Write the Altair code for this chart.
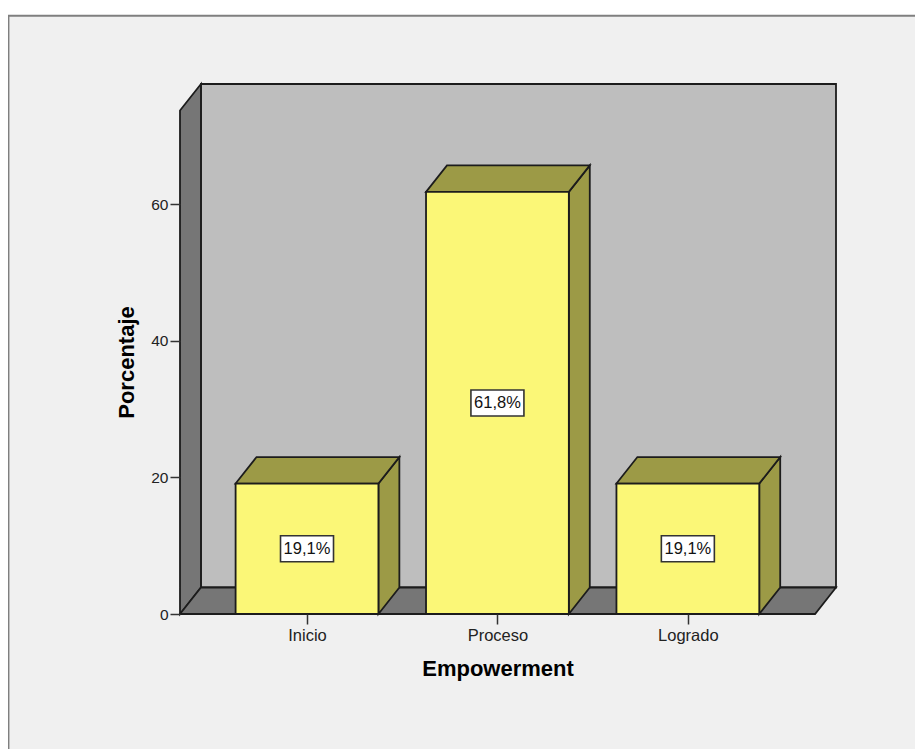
import altair as alt
import pandas as pd

categories = ["Inicio", "Proceso", "Logrado"]
values = [19.1, 61.8, 19.1]
labels = ["19,1%", "61,8%", "19,1%"]
y_ticks = [0, 20, 40, 60]

FONT = "Liberation Sans"
DX, DY = 0.11, 3.88          # depth of the 3-D effect in data units
L, R, TOP = -0.667, 2.668, 73.72  # front floor extents and wall height
HALF = 0.375
XDOM = [L, R + DX]
YDOM = [0, TOP + DY]
INK = "#1c1c1c"

X = alt.Scale(domain=XDOM, nice=False, zero=False)
Y = alt.Scale(domain=YDOM, nice=False, zero=False)


def enc(**kw):
    return dict(
        x=alt.X("x:Q", scale=X, axis=None),
        y=alt.Y("y:Q", scale=Y, axis=None),
        **kw,
    )


def rect(df, fill, **mk):
    return alt.Chart(df).mark_rect(fill=fill, **mk).encode(
        x=alt.X("x:Q", scale=X, axis=None), x2="x2:Q",
        y=alt.Y("y:Q", scale=Y, axis=None), y2="y2:Q",
    )


def poly(rows, fill, sw=1.8):
    df = pd.DataFrame(rows, columns=["id", "x", "y", "y2"])
    return alt.Chart(df).mark_area(
        fill=fill, stroke=INK, strokeWidth=sw, opacity=1, orient="vertical", strokeJoin="miter"
    ).encode(**enc(y2="y2:Q", detail="id:N"))


panel = rect(pd.DataFrame({"x": [-1.568], "x2": [3.4], "y": [87.6], "y2": [-25]}),
             "#f0f0f0", stroke="#7f7f7f", strokeWidth=2)
back = rect(pd.DataFrame({"x": [L + DX], "x2": [R + DX], "y": [DY], "y2": [TOP + DY]}),
            "#bebebe", stroke=INK, strokeWidth=1.8)
left = poly([("l", L, 0, TOP), ("l", L + DX, DY, TOP + DY)], "#767676")
floor = poly([("f", L, 0, 0), ("f", L + DX, 0, DY), ("f", R, 0, DY), ("f", R + DX, DY, DY)], "#767676")

side_rows, top_rows = [], []
for i, v in enumerate(values):
    x0, x1 = i - HALF, i + HALF
    side_rows += [(i, x1, 0, v), (i, x1 + DX, DY, v + DY)]
    top_rows += [(i, x0, v, v), (i, x0 + DX, v, v + DY), (i, x1, v, v + DY), (i, x1 + DX, v + DY, v + DY)]
side = poly(side_rows, "#9c9a46")
top = poly(top_rows, "#9c9a46")

bars_df = pd.DataFrame({
    "x": [i - HALF for i in range(3)], "x2": [i + HALF for i in range(3)],
    "y": [0.0] * 3, "y2": values,
})
front = rect(bars_df, "#fbf777", stroke=INK, strokeWidth=1.8)

lab_df = pd.DataFrame({"x": list(range(3)), "y": [v / 2 for v in values], "t": labels})
box = alt.Chart(lab_df).mark_rect(width=53, height=26, fill="white", stroke="#333333", strokeWidth=1.6).encode(**enc())
txt = alt.Chart(lab_df).mark_text(font=FONT, fontSize=16.5, color="#111111", baseline="middle", align="center").encode(
    **enc(text="t:N"))

expr = "['" + "','".join(categories) + "'][datum.value]"
axes = alt.Chart(pd.DataFrame({"x": [0], "y": [0]})).mark_point(opacity=0).encode(
    x=alt.X("x:Q", scale=X, title="Empowerment", axis=alt.Axis(
        values=[0, 1, 2], labelExpr=expr, grid=False, domain=False, tickSize=10, tickColor="#333333",
        tickWidth=1.5, labelFont=FONT, labelFontSize=16.5, labelColor="#222222", labelPadding=3,
        titleFont=FONT, titleFontSize=22, titleFontWeight="bold", titleColor="#000000", titlePadding=15,
        titleX=317.5, labelAngle=0, zindex=1)),
    y=alt.Y("y:Q", scale=Y, title="Porcentaje", axis=alt.Axis(
        values=y_ticks, grid=False, domain=False, tickSize=10, tickColor="#333333",
        tickWidth=1.5, labelFont=FONT, labelFontSize=15.5, labelColor="#222222", labelPadding=2,
        titleFont=FONT, titleFontSize=22, titleFontWeight="bold", titleColor="#000000", titlePadding=12,
        titleY=278, zindex=1)),
)

chart = alt.layer(panel, back, left, floor, side, top, front, box, txt, axes).resolve_axis(
    x="independent", y="independent"
).properties(
    width=656, height=530,
    padding={"left": 172, "top": 76, "right": 79, "bottom": 135},
    autosize=alt.AutoSizeParams(type="none"),
    background="white",
).configure_view(stroke=None)

chart.save("out.html", embed_options={"renderer": "svg", "actions": False})
